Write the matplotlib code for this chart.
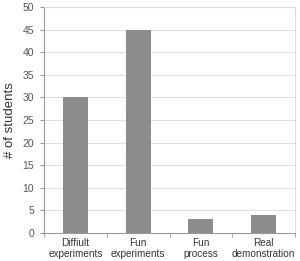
import numpy as np
import matplotlib
matplotlib.use("Agg")
import matplotlib.pyplot as plt

plt.rcParams['font.family'] = ['Liberation Sans', 'DejaVu Sans']

categories = ["Diffiult\nexperiments", "Fun\nexperiments", "Fun\nprocess", "Real\ndemonstration"]
students = [30, 45, 3, 4]

fig = plt.figure(figsize=(3.0, 2.61), dpi=100)
ax = fig.add_axes([44/300, 28/261, 251/300, 226/261])

x = np.arange(len(categories))
ax.bar(x, students, width=0.4, color="#8c8c8c", zorder=3)

ax.set_xlim(-0.5, len(categories) - 0.5)
ax.set_ylim(0, 50)
ax.set_yticks(np.arange(0, 51, 5))
ax.yaxis.grid(True, color="#e0e0e0", linewidth=0.8, zorder=0)

ax.set_xticks(x)
ax.set_xticklabels(categories, fontsize=7.2, color="#333333", linespacing=1.1)
ax.tick_params(axis="x", length=0, pad=3.5)
ax.set_xticks(np.arange(-0.5, len(categories), 1), minor=True)
ax.tick_params(axis="x", which="minor", length=3, color="#999999")
ax.tick_params(axis="y", labelsize=7.5, labelcolor="#555555", length=3, color="#999999", pad=4)

for side in ["top", "right"]:
    ax.spines[side].set_color("#dddddd")
for side in ["left", "bottom"]:
    ax.spines[side].set_color("#999999")

ax.set_ylabel("# of students", fontsize=9.5, color="#333333", labelpad=5)

fig.savefig("out.png", dpi=100)
